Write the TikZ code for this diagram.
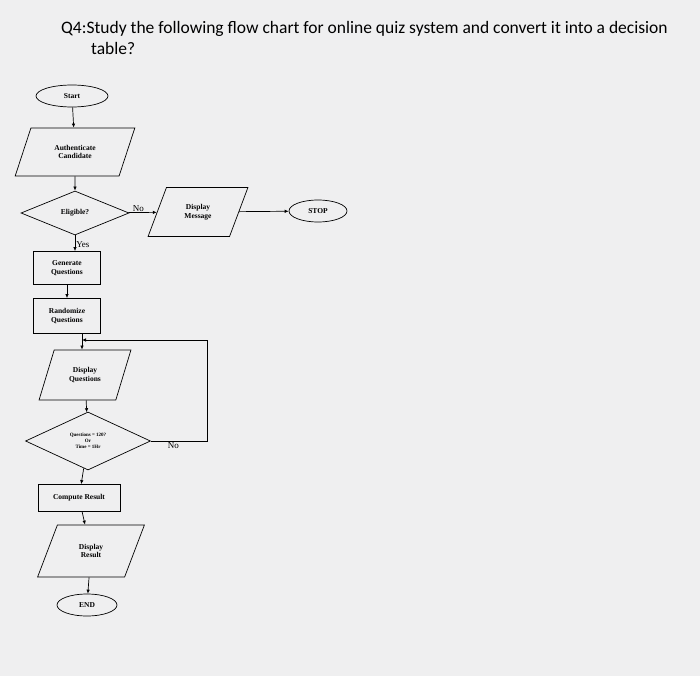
\documentclass[tikz,border=0pt]{standalone}
\usepackage{fontspec}
\setmainfont{Liberation Serif}
\newfontfamily\titlefont{Carlito}
\usetikzlibrary{shapes.geometric,arrows.meta}
\begin{document}
\begin{tikzpicture}[x=1pt,y=-1pt,
  every node/.style={font=\bfseries\fontsize{7.5}{8.5}\selectfont, align=center, inner sep=1pt},
  shp/.style={draw, line width=0.7pt},
  term/.style={shp, ellipse, minimum width=#1, minimum height=22pt},
  para/.style={shp, trapezium, trapezium left angle=64, trapezium right angle=116, trapezium stretches=true, minimum height=48pt, minimum width=#1},
  box/.style={shp, rectangle, minimum width=67pt, minimum height=33pt},
  dec/.style={shp, diamond, aspect=#1},
  arr/.style={line width=0.7pt, -{Latex[length=4pt,width=3.5pt]}},
  lbl/.style={font=\fontsize{9}{10}\selectfont}
]
\fill[blue!4!gray!12] (0,0) rectangle (700,676);
\node[anchor=west, font=\titlefont\fontsize{17.5}{21}\selectfont, align=left] (title) at (60,38)
  {Q4:Study the following flow chart for online quiz system and convert it into a decision\\\hspace*{30pt}table?};
\node[term=72pt] (start) at (72,96) {Start};
\node[para=120pt] (auth) at (75,152) {Authenticate\\Candidate};
\node[dec=2.4, minimum width=108pt, minimum height=44pt, inner sep=0pt] (elig) at (75,213) {Eligible?};
\node[para=100pt, minimum height=49pt] (msg) at (198,212) {Display\\Message};
\node[term=58pt] (stop) at (318,211) {STOP};
\node[box] (gen) at (67,268) {Generate\\Questions};
\node[box, minimum height=35pt] (rand) at (67,316) {Randomize\\Questions};
\node[para=92pt, minimum height=50pt] (dq) at (85,375) {Display\\Questions};
\node[dec=2.2, minimum width=125pt, minimum height=58pt, inner sep=0pt, font=\bfseries\fontsize{5}{6}\selectfont] (q) at (88,441) {Questions = 120?\\Or\\Time = 1Hr};
\node[box, minimum width=82pt, minimum height=27pt] (comp) at (79,498) {Compute Result};
\node[para=107pt, minimum height=52pt] (dr) at (91,551) {Display\\Result};
\node[term=60pt] (endn) at (87,605) {END};
\coordinate (j) at (82,340);
\coordinate (c1) at (207,441);
\coordinate (c2) at (207,340);
\draw[arr] (start) -- (auth);
\draw[arr] (auth) -- (elig);
\draw[arr] (elig) -- node[lbl, above, pos=0.35]{No} (msg);
\draw[arr] (msg) -- (stop);
\draw[arr] (elig.south) -- node[lbl, right, pos=0.6]{Yes} (elig.south |- gen.north);
\draw[arr] (gen) -- (rand);
\draw[arr] (rand.south -| j) -- (dq.north -| j);
\draw[arr] (dq) -- (q);
\draw[arr] (q.east) -- node[lbl, below, pos=0.4]{No} (c1) -- (c2) -- (j);
\draw[arr] (q) -- (comp);
\draw[arr] (comp) -- (dr);
\draw[arr] (dr) -- (endn);
\end{tikzpicture}
\end{document}
